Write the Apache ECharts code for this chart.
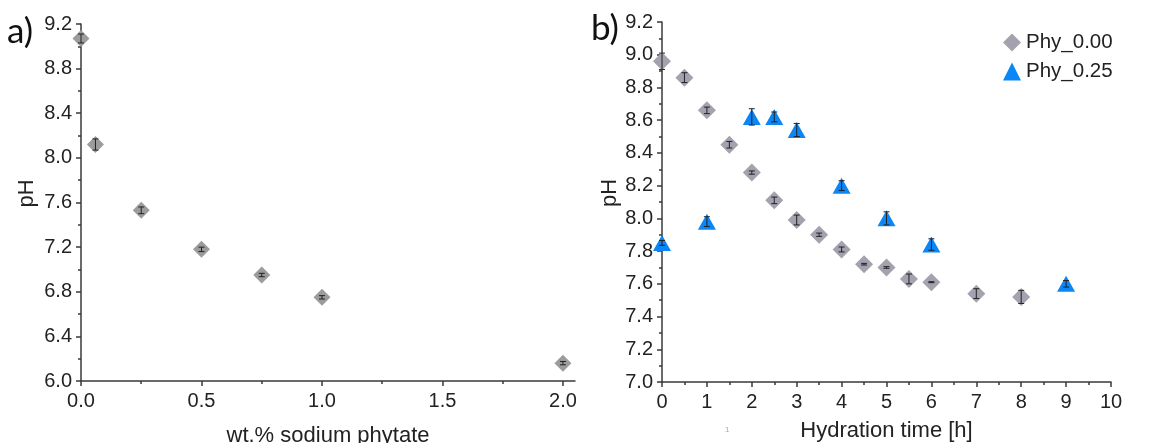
<!DOCTYPE html>
<html>
<head>
<meta charset="utf-8">
<script src="https://cdn.jsdelivr.net/npm/echarts@6/dist/echarts.min.js"></script>
<style>
  html, body { margin: 0; padding: 0; background: #fff; }
  #chart { width: 1164px; height: 443px; }
</style>
</head>
<body>
<div id="chart"></div>
<script>
// panel a: pH vs wt.% sodium phytate
const phytateWt = [0, 0.06, 0.25, 0.5, 0.75, 1.0, 2.0];
const phytatePH = [9.07, 8.12, 7.53, 7.18, 6.95, 6.75, 6.16];
const phytateErr = [0.04, 0.05, 0.03, 0.02, 0.015, 0.015, 0.015];

// panel b: pH vs hydration time
const timePhy000 = [0, 0.5, 1, 1.5, 2, 2.5, 3, 3.5, 4, 4.5, 5, 5.5, 6, 7, 8];
const phPhy000 = [8.96, 8.86, 8.66, 8.45, 8.28, 8.11, 7.99, 7.90, 7.81, 7.72, 7.70, 7.63, 7.61, 7.54, 7.52];
const errPhy000 = [0.05, 0.03, 0.02, 0.02, 0.01, 0.02, 0.03, 0.01, 0.015, 0.005, 0.005, 0.03, 0.003, 0.03, 0.04];

const timePhy025 = [0, 1, 2, 2.5, 3, 4, 5, 6, 9];
const phPhy025 = [7.85, 7.98, 8.62, 8.62, 8.54, 8.20, 8.00, 7.84, 7.60];
const errPhy025 = [0.015, 0.03, 0.05, 0.03, 0.04, 0.03, 0.04, 0.035, 0.02];

const xTicksA = [0, 0.5, 1.0, 1.5, 2.0];
const xMinorA = [0.25, 0.75, 1.25, 1.75];

const zip = (xs, ys, es) => xs.map((x, i) => es ? [x, ys[i], es[i]] : [x, ys[i]]);

const FONT = 'Arial, "Liberation Sans", sans-serif';
const labelFont = { fontFamily: FONT, fontSize: 20, color: '#222' };
const nameFont = { fontFamily: FONT, fontSize: 22, color: '#222' };
const axisLine = { show: true, lineStyle: { color: '#3a3a3a', width: 1.5 } };
const tickStyle = { color: '#3a3a3a', width: 1.5 };

function errorBars(params, api) {
  const x = api.value(0), y = api.value(1), e = api.value(2);
  const top = api.coord([x, y + e]);
  const bot = api.coord([x, y - e]);
  const w = 3;
  const style = { stroke: '#222', lineWidth: 1 };
  return {
    type: 'group',
    children: [
      { type: 'line', shape: { x1: top[0], y1: top[1], x2: bot[0], y2: bot[1] }, style },
      { type: 'line', shape: { x1: top[0] - w, y1: top[1], x2: top[0] + w, y2: top[1] }, style },
      { type: 'line', shape: { x1: bot[0] - w, y1: bot[1], x2: bot[0] + w, y2: bot[1] }, style }
    ]
  };
}

const chart = echarts.init(document.getElementById('chart'));

chart.setOption({
  animation: false,
  backgroundColor: '#fff',
  grid: [
    { left: 81, top: 24, width: 494, height: 357, outerBoundsMode: 'none' },
    { left: 662, top: 22, width: 449, height: 360, outerBoundsMode: 'none' }
  ],
  legend: {
    left: 998, top: 27, orient: 'vertical',
    itemWidth: 18, itemHeight: 18, itemGap: 8, itemTextGap: 15,
    textStyle: { fontFamily: FONT, fontSize: 20.5, color: '#222' },
    data: [
      { name: 'Phy_0.00', icon: 'diamond' },
      { name: 'Phy_0.25', icon: 'triangle' }
    ]
  },
  xAxis: [
    {
      gridIndex: 0, type: 'value', position: 'bottom', min: 0, max: 2.05,
      name: 'wt.% sodium phytate', nameLocation: 'middle', nameGap: 44,
      nameTextStyle: nameFont,
      axisLine,
      axisTick: { show: true, length: 5, customValues: xTicksA, lineStyle: tickStyle },
      axisLabel: Object.assign({ margin: 10, customValues: xTicksA, formatter: v => v.toFixed(1) }, labelFont),
      splitLine: { show: false }
    },
    {
      gridIndex: 0, type: 'value', position: 'bottom', min: 0, max: 2.05,
      axisLine: { show: false },
      axisTick: { show: true, length: 3, customValues: xMinorA, lineStyle: tickStyle },
      axisLabel: { show: false },
      splitLine: { show: false }
    },
    {
      gridIndex: 1, type: 'value', position: 'bottom', min: 0, max: 10, interval: 1,
      name: 'Hydration time [h]', nameLocation: 'middle', nameGap: 38,
      nameTextStyle: nameFont,
      axisLine,
      axisTick: { length: 5, lineStyle: tickStyle },
      minorTick: { show: true, splitNumber: 2, length: 3, lineStyle: tickStyle },
      axisLabel: Object.assign({ margin: 10 }, labelFont),
      splitLine: { show: false }
    }
  ],
  yAxis: [
    {
      gridIndex: 0, type: 'value', min: 6.0, max: 9.2, interval: 0.4,
      name: 'pH', nameLocation: 'middle', nameGap: 43,
      nameTextStyle: Object.assign({ padding: [0, 0, 0, 18] }, nameFont),
      axisLine,
      axisTick: { length: 5, lineStyle: tickStyle },
      minorTick: { show: true, splitNumber: 2, length: 3, lineStyle: tickStyle },
      axisLabel: Object.assign({ margin: 9, formatter: v => v.toFixed(1) }, labelFont),
      splitLine: { show: false }
    },
    {
      gridIndex: 1, type: 'value', min: 7.0, max: 9.2, interval: 0.2,
      name: 'pH', nameLocation: 'middle', nameGap: 40,
      nameTextStyle: Object.assign({ padding: [0, 0, 0, 18] }, nameFont),
      axisLine,
      axisTick: { length: 5, lineStyle: tickStyle },
      minorTick: { show: true, splitNumber: 2, length: 3, lineStyle: tickStyle },
      axisLabel: Object.assign({ margin: 9, formatter: v => v.toFixed(1) }, labelFont),
      splitLine: { show: false }
    }
  ],
  series: [
    {
      type: 'scatter', xAxisIndex: 0, yAxisIndex: 0, clip: false,
      symbol: 'diamond', symbolSize: [17, 17],
      itemStyle: { color: '#9c9c9c', opacity: 1 },
      data: zip(phytateWt, phytatePH)
    },
    {
      type: 'custom', xAxisIndex: 0, yAxisIndex: 0, clip: false, z: 5,
      renderItem: errorBars, data: zip(phytateWt, phytatePH, phytateErr)
    },
    {
      name: 'Phy_0.00', type: 'scatter', xAxisIndex: 2, yAxisIndex: 1, clip: false,
      symbol: 'diamond', symbolSize: [18, 18],
      itemStyle: { color: '#a4a2ae', opacity: 1 },
      data: zip(timePhy000, phPhy000)
    },
    {
      type: 'custom', xAxisIndex: 2, yAxisIndex: 1, clip: false, z: 5,
      renderItem: errorBars, data: zip(timePhy000, phPhy000, errPhy000)
    },
    {
      name: 'Phy_0.25', type: 'scatter', xAxisIndex: 2, yAxisIndex: 1, clip: false,
      symbol: 'triangle', symbolSize: [18, 16],
      itemStyle: { color: '#0b86f7', opacity: 1 },
      data: zip(timePhy025, phPhy025)
    },
    {
      type: 'custom', xAxisIndex: 2, yAxisIndex: 1, clip: false, z: 5,
      renderItem: errorBars, data: zip(timePhy025, phPhy025, errPhy025)
    }
  ],
  graphic: [
    { type: 'text', left: 7, top: 14, style: { text: 'a)', font: '35px Lato', fill: '#111' } },
    { type: 'text', left: 591, top: 11, style: { text: 'b)', font: '35px Lato', fill: '#111' } },
    { type: 'text', left: 725, top: 426, style: { text: '1', font: '8px Arial', fill: '#aaa' } }
  ]
});
</script>
</body>
</html>
